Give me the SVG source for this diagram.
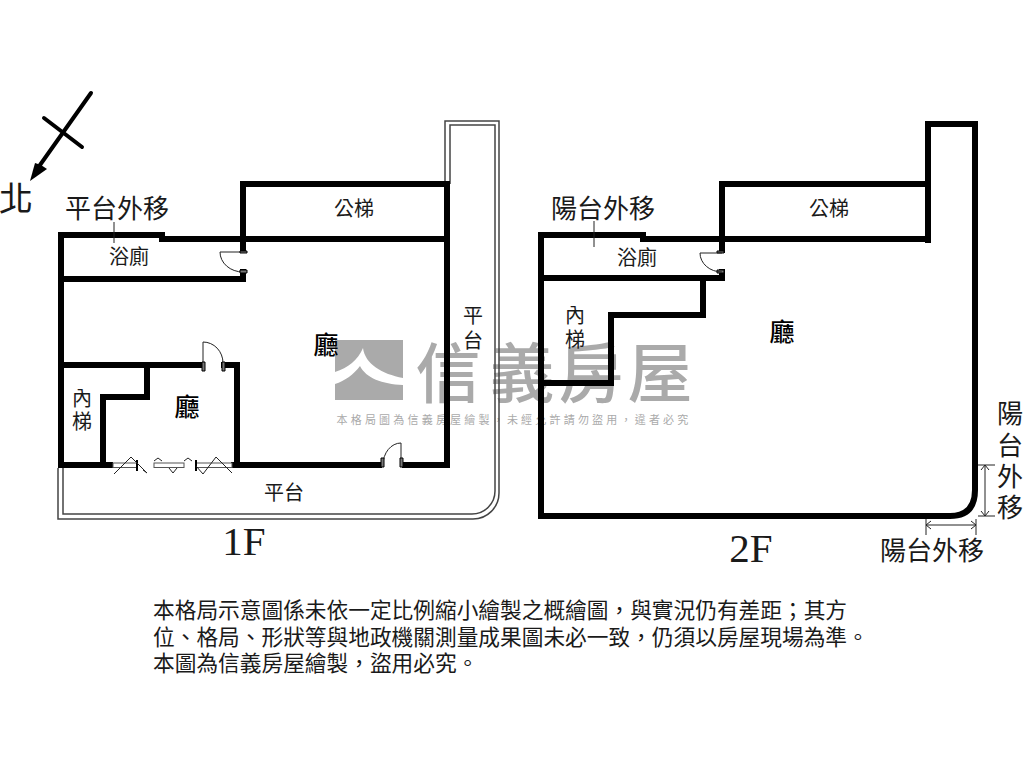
<svg xmlns="http://www.w3.org/2000/svg" width="1024" height="768" viewBox="0 0 1024 768">
<style>
text{font-family:"Noto Sans CJK TC","Noto Sans",sans-serif;font-weight:400;fill:#1a1a1a;text-anchor:middle;dominant-baseline:central}
.w{fill:none;stroke:#000;stroke-width:6;stroke-linecap:square;stroke-linejoin:miter}
.t{fill:none;stroke:#222;stroke-width:1}
.b{fill:none;stroke:#444;stroke-width:1.5}
.l26{font-size:26px}.l20{font-size:20px}.hall{font-size:25px;font-weight:500;fill:#000}
.note{font-size:21.7px;text-anchor:start;dominant-baseline:auto}
.wm{fill:#aaa}
.big{font-size:65px;font-weight:500;fill:#aaa}
.j{fill:#777;stroke:#000;stroke-width:1}
.ser{font-family:"Liberation Serif",serif;font-size:41px;font-weight:400}
</style>
<rect width="1024" height="768" fill="#fff"/>
<g id="watermark">
<rect class="wm" x="335" y="340" width="68" height="60"/>
<path fill="#fff" d="M335 372C348 368 358 360 363 348C365 364 382 374 403 378V385C382 384 366 378 360 366C354 374 345 381 335 384Z"/>
<text class="big" x="448" y="369">信</text>
<text class="big" x="522" y="369">義</text>
<text class="big" x="591" y="369">房</text>
<text class="big" x="660" y="369">屋</text>
<text class="wm" x="514" y="419" font-size="11" letter-spacing="3.2">本格局圖為信義房屋繪製&#xFF0C;未經允許請勿盜用&#xFF0C;違者必究</text>
</g>
<g id="north">
<path d="M91 93L40 165M44 118L82 147" fill="none" stroke="#000" stroke-width="4" stroke-linecap="round"/>
<path d="M30 181L35 163L41 165L47 169Z" fill="#000"/>
<text x="16" y="196" font-size="34">北</text>
</g>
<g id="floor-1F">
<path class="b" d="M445 184V121H499V493A26 26 0 0 1 473 519H58V468"/>
<path class="b" d="M450 184V125H495V491A23 23 0 0 1 472 514H63V468"/>
<path class="w" d="M61 465V235H162V239H445M243 250V184H447V465H405M61 279H243V272M61 365H201M224 365H237V465M147 365V397H103V465M61 465H110M234 465H379"/>
<rect x="113" y="463" width="24" height="4.5" fill="#fff" stroke="#555"/>
<rect x="154" y="463" width="30" height="4.5" fill="#fff" stroke="#555"/>
<rect x="196" y="463" width="36" height="4.5" fill="#fff" stroke="#555"/>
<path d="M137 460V471M196 460V471" stroke="#000" stroke-width="2"/>
<path class="t" d="M114 474L131 457L147 473M143 470L147 473M154 461L158 458L162 461M169 468L173 473L177 468M184 461L188 458L192 461M196 466L203 474L216 457L232 473"/>
<path class="t" d="M401 465V443A18 22 0 0 0 383 465M203 363V342A20 21 0 0 1 223 363M243 252H220A23 20 0 0 0 243 272"/>
<path class="j" d="M381 458h3v9h-3zM400 458h3v9h-3zM202 362h3v9h-3zM222 362h3v9h-3zM240 251h7v2h-7zM240 270h7v3h-7z"/>
<path class="t" d="M114 222V243"/>
<text class="l26" x="117" y="206">平台外移</text>
<text class="l20" x="129" y="255">浴廁</text>
<text class="l20" x="354" y="207">公梯</text>
<text class="hall" x="326" y="343">廳</text>
<text class="hall" x="187" y="405">廳</text>
<text class="l20" x="82" y="397">內</text>
<text class="l20" x="82" y="420">梯</text>
<text class="l20" x="473" y="314">平</text>
<text class="l20" x="473" y="339">台</text>
<text class="l20" x="284" y="491">平台</text>
<text class="ser" x="244" y="541">1F</text>
</g>
<g id="floor-2F">
<path class="w" d="M541 516V235H643V239H925M722 250V184H928M541 278H722V272M703 278V315H611V383H541M928 240V124H975V490Q975 516 950 516H541"/>
<path class="t" d="M594 221V247"/>
<path class="j" d="M717 251h7v2h-7zM717 270h7v3h-7z"/>
<path class="t" d="M722 253H700A22 19 0 0 0 722 272"/>
<path class="t" d="M978 465H995M985 465V516M978 516H995M981 470L985 465L989 470M981 511L985 516L989 511M926 519V535M976 519V535M926 525H976M931 521L926 525L931 529M971 521L976 525L971 529"/>
<text class="l26" x="603" y="206">陽台外移</text>
<text class="l20" x="637" y="256">浴廁</text>
<text class="l20" x="829" y="207">公梯</text>
<text class="hall" x="782" y="330">廳</text>
<text class="l20" x="575" y="314">內</text>
<text class="l20" x="575" y="338">梯</text>
<text class="l26" x="932" y="548">陽台外移</text>
<text class="l26" x="1010" y="411">陽</text>
<text class="l26" x="1010" y="443">台</text>
<text class="l26" x="1010" y="474">外</text>
<text class="l26" x="1010" y="505">移</text>
<text class="ser" x="751" y="548">2F</text>
</g>
<g id="note">
<text class="note" x="153" y="618">本格局示意圖係未依一定比例縮小繪製之概繪圖&#xFF0C;與實況仍有差距&#xFF1B;其方</text>
<text class="note" x="153" y="645">位、格局、形狀等與地政機關測量成果圖未必一致&#xFF0C;仍須以房屋現場為準。</text>
<text class="note" x="153" y="671">本圖為信義房屋繪製&#xFF0C;盜用必究。</text>
</g>
</svg>
